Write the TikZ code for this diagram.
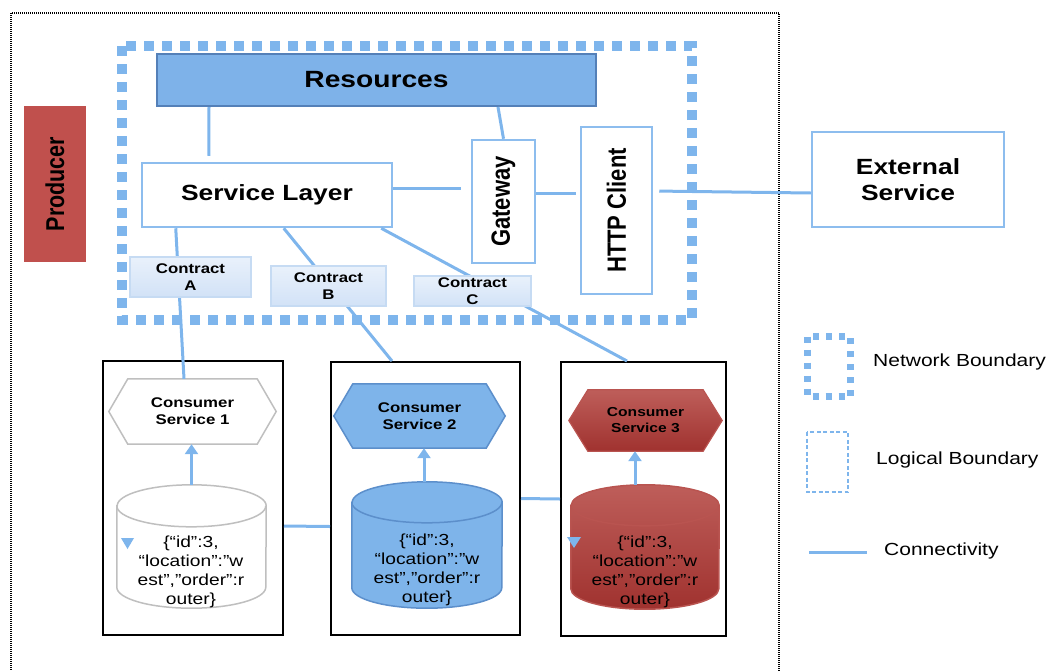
\documentclass[tikz,border=0pt]{standalone}
\usepackage{fontspec}
\setmainfont{Liberation Sans}[FakeStretch=1.2]
\newfontfamily\narrowsans{Liberation Sans}
\usetikzlibrary{arrows.meta,backgrounds}

\definecolor{linkblue}{RGB}{126,181,236}
\definecolor{resfill}{RGB}{126,178,233}
\definecolor{resedge}{RGB}{84,128,184}
\definecolor{boxedge}{RGB}{141,189,238}
\definecolor{contrtop}{RGB}{233,241,251}
\definecolor{contrbot}{RGB}{210,226,247}
\definecolor{contredge}{RGB}{198,219,243}
\definecolor{prodred}{RGB}{192,80,77}
\definecolor{redtop}{RGB}{190,94,90}
\definecolor{redbot}{RGB}{160,50,47}
\definecolor{rededge}{RGB}{185,84,80}
\definecolor{grayedge}{RGB}{191,191,191}
\definecolor{svcfill}{RGB}{126,180,234}
\definecolor{svcedge}{RGB}{92,143,203}

% hexagonal service outline around a named node
\newcommand\hexpath[2]{%
  \path[#2] (#1.west) -- ([xshift=19pt]#1.north west) -- ([xshift=-19pt]#1.north east)
    -- (#1.east) -- ([xshift=-19pt]#1.south east) -- ([xshift=19pt]#1.south west) -- cycle;}
% database cylinder around a named node: node, half width, rim radius, fill, edge colour
\newcommand\dbshape[5]{%
  \path[#4, draw=#5, line width=1.5pt] ([yshift=-#3]#1.north west) -- ([yshift=#3]#1.south west)
    arc[start angle=180,end angle=360,x radius=#2,y radius=#3]
    -- ([yshift=-#3]#1.north east)
    arc[start angle=0,end angle=180,x radius=#2,y radius=#3] -- cycle;
  \draw[#5, line width=1.5pt] ([yshift=-#3]#1.north west)
    arc[start angle=180,end angle=360,x radius=#2,y radius=#3];}

\tikzset{
  link/.style={draw=linkblue, line width=3pt},
  upflow/.style={draw=linkblue, line width=3pt, -{Triangle[width=13pt,length=10pt]}},
  plainbox/.style={draw=boxedge, line width=2.5pt, fill=white, inner sep=0pt, align=center},
  headline/.style={font=\bfseries\fontsize{22}{26}\selectfont},
  contract/.style={draw=contredge, line width=1.2pt, top color=contrtop, bottom color=contrbot,
    inner sep=0pt, align=center, font=\bfseries\fontsize{14}{17}\selectfont},
  consumerbox/.style={draw=black, line width=2pt, inner sep=0pt},
  hexbox/.style={inner sep=0pt, align=center, font=\bfseries\fontsize{14}{17}\selectfont},
  dbbox/.style={inner sep=0pt},
  dbtext/.style={align=center, inner sep=0pt, font=\fontsize{16}{19}\selectfont},
  legendtext/.style={anchor=west, inner sep=0pt, font=\fontsize{17.5}{20}\selectfont},
  netbound/.style={draw=linkblue, line width=10pt, dash pattern=on 10pt off 8pt},
}

\begin{document}
\begin{tikzpicture}[x=1pt,y=-1pt]
\useasboundingbox (0,0) rectangle (1052,670);
\clip (0,0) rectangle (1052,670);

% producer frame and network boundary
\draw[black, line width=1.3pt, dash pattern=on 1pt off 1pt] (11,13) rectangle (779,700);
\draw[netbound] (122,46) rectangle (692,320);

% producer side
\node[fill=prodred, minimum width=62pt, minimum height=156pt, inner sep=0pt] (prod) at (55,184)
  {\rotatebox{90}{\scalebox{1}[1.2]{\narrowsans\bfseries\fontsize{21.5}{24}\selectfont Producer}}};
\node[draw=resedge, line width=2pt, fill=resfill, minimum width=439pt, minimum height=52pt,
  inner sep=0pt, font=\bfseries\fontsize{23.5}{28}\selectfont] (res) at (376.5,80) {Resources};
\node[plainbox, headline, minimum width=250pt, minimum height=64pt] (sl) at (267,195) {Service Layer};
\node[plainbox, minimum width=63pt, minimum height=123pt] (gw) at (503.5,201.5)
  {\rotatebox{90}{\scalebox{1}[1.2]{\narrowsans\bfseries\fontsize{22}{26}\selectfont Gateway}}};
\node[plainbox, minimum width=71pt, minimum height=167pt] (http) at (616.5,210.5)
  {\rotatebox{90}{\scalebox{1}[1.2]{\narrowsans\bfseries\fontsize{22}{26}\selectfont HTTP Client}}};
\node[plainbox, headline, minimum width=192pt, minimum height=95pt] (ext) at (908,179.5)
  {External\\Service};

% consumers
\node[consumerbox, minimum width=180pt, minimum height=274pt] (b1) at (193,498) {};
\node[consumerbox, minimum width=189pt, minimum height=273pt] (b2) at (425.5,498.5) {};
\node[consumerbox, minimum width=165pt, minimum height=274pt] (b3) at (643.5,499) {};

\node[hexbox, minimum width=167pt, minimum height=65pt] (cs1) at (192.5,411.5) {Consumer\\Service 1};
\node[hexbox, minimum width=171pt, minimum height=64pt] (cs2) at (419.5,416) {Consumer\\Service 2};
\node[hexbox, minimum width=153pt, minimum height=61pt, font=\bfseries\fontsize{13}{16}\selectfont]
  (cs3) at (645.5,420.5) {Consumer\\Service 3};

\node[dbbox, minimum width=149pt, minimum height=123pt] (db1) at (191.5,546.5) {};
\node[dbbox, minimum width=150pt, minimum height=126pt] (db2) at (427,545) {};
\node[dbbox, minimum width=148pt, minimum height=124pt] (db3) at (645,547) {};

\begin{scope}[on background layer]
  \hexpath{cs1}{draw=grayedge, line width=1.5pt, fill=white}
  \hexpath{cs2}{draw=svcedge, line width=1.5pt, fill=svcfill}
  \hexpath{cs3}{draw=rededge, line width=1.2pt, top color=redtop, bottom color=redbot}
  \dbshape{db1}{74.5pt}{21pt}{fill=white}{grayedge}
  \dbshape{db2}{75pt}{20.5pt}{fill=svcfill}{svcedge}
  \dbshape{db3}{74pt}{20.5pt}{top color=redtop, bottom color=redbot}{rededge}
\end{scope}

\node[dbtext] (db1t) at (191,571.5) {\{“id”:3,\\“location”:”w\\est”,”order”:r\\outer\}};
\node[dbtext] (db2t) at (427,570) {\{“id”:3,\\“location”:”w\\est”,”order”:r\\outer\}};
\node[dbtext] (db3t) at (645,572) {\{“id”:3,\\“location”:”w\\est”,”order”:r\\outer\}};
\fill[linkblue] (121,538) -- (134,538) -- (127.5,549) -- cycle;
\fill[linkblue] (567,537) -- (581,537) -- (574,548) -- cycle;

% connectivity
\draw[link, shorten >=6pt] ([xshift=53pt]res.south west) -- ([xshift=68pt]sl.north west);
\draw[link] ([xshift=342pt]res.south west) -- (gw.north);
\draw[link, shorten >=10pt] ([yshift=7pt]sl.east) -- ([yshift=13.5pt]gw.west);
\draw[link, shorten >=4pt] ([yshift=8.5pt]gw.east) -- ([yshift=17.5pt]http.west);
\draw[link, shorten <=6pt] ([yshift=19.5pt]http.east) -- ([yshift=-13.5pt]ext.west);
\draw[link] ([xshift=35pt]sl.south west) -- ([xshift=-8.5pt]cs1.north);
\draw[link] ([xshift=143pt]sl.south west) -- ([xshift=-33.5pt]b2.north);
\draw[link] ([xshift=-12pt]sl.south east) -- ([xshift=-16.5pt]b3.north);
\draw[link] ([yshift=-28pt]b1.east) -- ([yshift=-28pt]b2.west);
\draw[link] (b2.east) -- (b3.west);
\draw[upflow] (db1.north) -- (db1.north |- cs1.south);
\draw[upflow] ([xshift=-3pt]db2.north) -- ([xshift=-3pt]db2.north |- cs2.south);
\draw[upflow] ([xshift=-10pt]db3.north) -- ([xshift=-10pt]db3.north |- cs3.south);

% service contracts
\node[contract, minimum width=121pt, minimum height=40pt] (ca) at (190.5,277) {Contract\\A};
\node[contract, minimum width=115pt, minimum height=40pt] (cb) at (328.5,286) {Contract\\B};
\node[contract, minimum width=117pt, minimum height=30pt] (cc) at (472.5,291) {Contract\\C};

% legend
\draw[draw=linkblue, line width=7pt, dash pattern=on 6pt off 7pt]
  (807.5,336.5) rectangle (850.5,396.5);
\node[legendtext] (lg1) at (873,362) {Network Boundary};
\draw[draw=linkblue, line width=1.3pt, dash pattern=on 4pt off 2.5pt] (807,432) rectangle (848,492);
\node[legendtext] (lg2) at (876,460) {Logical Boundary};
\coordinate (lg3a) at (809,552);
\coordinate (lg3b) at (867,552);
\draw[link] (lg3a) -- (lg3b);
\node[legendtext] (lg3) at (884,551) {Connectivity};
\end{tikzpicture}
\end{document}
